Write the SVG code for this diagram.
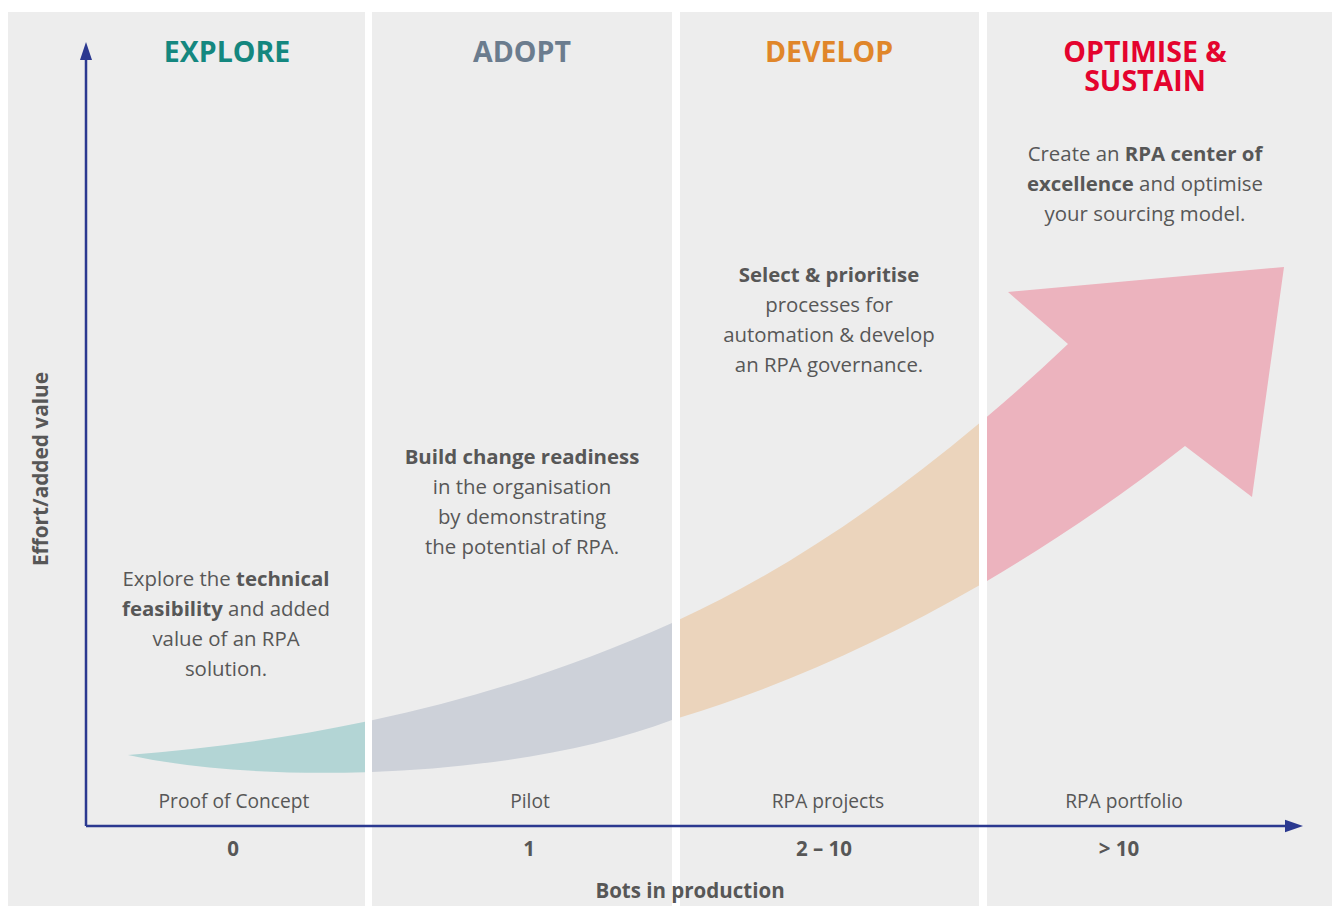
<svg xmlns="http://www.w3.org/2000/svg" width="1332" height="906" viewBox="0 0 1332 906">
  <style>
    .panel { fill: #ededed; }
    .hdr { font-family: "Open Sans", "Noto Sans", sans-serif; font-weight: 700; font-size: 28.5px; text-anchor: middle; }
    .body { font-family: "Open Sans", "Noto Sans", sans-serif; font-size: 20.4px; fill: #575757; text-anchor: middle; }
    .b { font-weight: 700; }
    .lbl { font-family: "Open Sans", "Noto Sans", sans-serif; font-size: 19.2px; fill: #575757; text-anchor: middle; }
    .num { font-family: "Open Sans", "Noto Sans", sans-serif; font-size: 20.5px; font-weight: 700; fill: #575757; text-anchor: middle; }
    .axis { stroke: #2b3990; stroke-width: 2.5; fill: none; }
  </style>
  <defs>
    <path id="arrow" d="M128,755 C308,741 492,704 672,623 C802,564.5 938,467.5 1068,344 L1008,292 L1284,267 L1252,497 L1185,446 C1015,578.6 842,669 672,720 C520,778 270,786 128,755 Z"/>
    <clipPath id="c1"><rect x="0" y="0" width="365" height="906"/></clipPath>
    <clipPath id="c2"><rect x="372" y="0" width="300" height="906"/></clipPath>
    <clipPath id="c3"><rect x="680" y="0" width="299" height="906"/></clipPath>
    <clipPath id="c4"><rect x="987" y="0" width="345" height="906"/></clipPath>
  </defs>
  <rect x="0" y="0" width="1332" height="906" fill="#ffffff"/>

  <g id="panel-explore">
    <rect class="panel" x="8" y="12" width="357" height="894"/>
    <use href="#arrow" clip-path="url(#c1)" fill="#b3d5d5"/>
    <text class="hdr" x="227" y="62" fill="#14877f">EXPLORE</text>
    <text class="body" x="226" y="586">Explore the <tspan class="b">technical</tspan></text>
    <text class="body" x="226" y="616"><tspan class="b">feasibility</tspan> and added</text>
    <text class="body" x="226" y="646">value of an RPA</text>
    <text class="body" x="226" y="676">solution.</text>
    <text class="lbl" x="234" y="808">Proof of Concept</text>
    <text class="num" x="233" y="856">0</text>
  </g>

  <g id="panel-adopt">
    <rect class="panel" x="372" y="12" width="300" height="894"/>
    <use href="#arrow" clip-path="url(#c2)" fill="#cdd1d9"/>
    <text class="hdr" x="522" y="62" fill="#6b7c8e">ADOPT</text>
    <text class="body" x="522" y="464"><tspan class="b">Build change readiness</tspan></text>
    <text class="body" x="522" y="494">in the organisation</text>
    <text class="body" x="522" y="524">by demonstrating</text>
    <text class="body" x="522" y="554">the potential of RPA.</text>
    <text class="lbl" x="530" y="808">Pilot</text>
    <text class="num" x="529" y="856">1</text>
  </g>

  <g id="panel-develop">
    <rect class="panel" x="680" y="12" width="299" height="894"/>
    <use href="#arrow" clip-path="url(#c3)" fill="#ebd4bc"/>
    <text class="hdr" x="829" y="62" fill="#e0862a">DEVELOP</text>
    <text class="body" x="829" y="282"><tspan class="b">Select &amp; prioritise</tspan></text>
    <text class="body" x="829" y="312">processes for</text>
    <text class="body" x="829" y="342">automation &amp; develop</text>
    <text class="body" x="829" y="372">an RPA governance.</text>
    <text class="lbl" x="828" y="808">RPA projects</text>
    <text class="num" x="824" y="856">2 – 10</text>
  </g>

  <g id="panel-optimise">
    <rect class="panel" x="987" y="12" width="345" height="894"/>
    <use href="#arrow" clip-path="url(#c4)" fill="#ecb3be"/>
    <text class="hdr" fill="#e4032e"><tspan x="1145" y="62">OPTIMISE &amp;</tspan><tspan x="1145" y="91">SUSTAIN</tspan></text>
    <text class="body" x="1145" y="161">Create an <tspan class="b">RPA center of</tspan></text>
    <text class="body" x="1145" y="191"><tspan class="b">excellence</tspan> and optimise</text>
    <text class="body" x="1145" y="221">your sourcing model.</text>
    <text class="lbl" x="1124" y="808">RPA portfolio</text>
    <text class="num" x="1119" y="856">&gt; 10</text>
  </g>

  <g id="connectors">
    <line class="axis" x1="86" y1="826" x2="86" y2="58"/>
    <polygon points="86,42 80,60 92,60" fill="#2b3990"/>
    <line class="axis" x1="86" y1="826" x2="1287" y2="826"/>
    <polygon points="1303,826 1285,819.7 1285,832.3" fill="#2b3990"/>
  </g>

  <g id="axis-labels">
    <text class="num" x="690" y="898">Bots in production</text>
    <text class="num" transform="translate(48,469) rotate(-90)" x="0" y="0" style="font-size:20.8px">Effort/added value</text>
  </g>
</svg>
